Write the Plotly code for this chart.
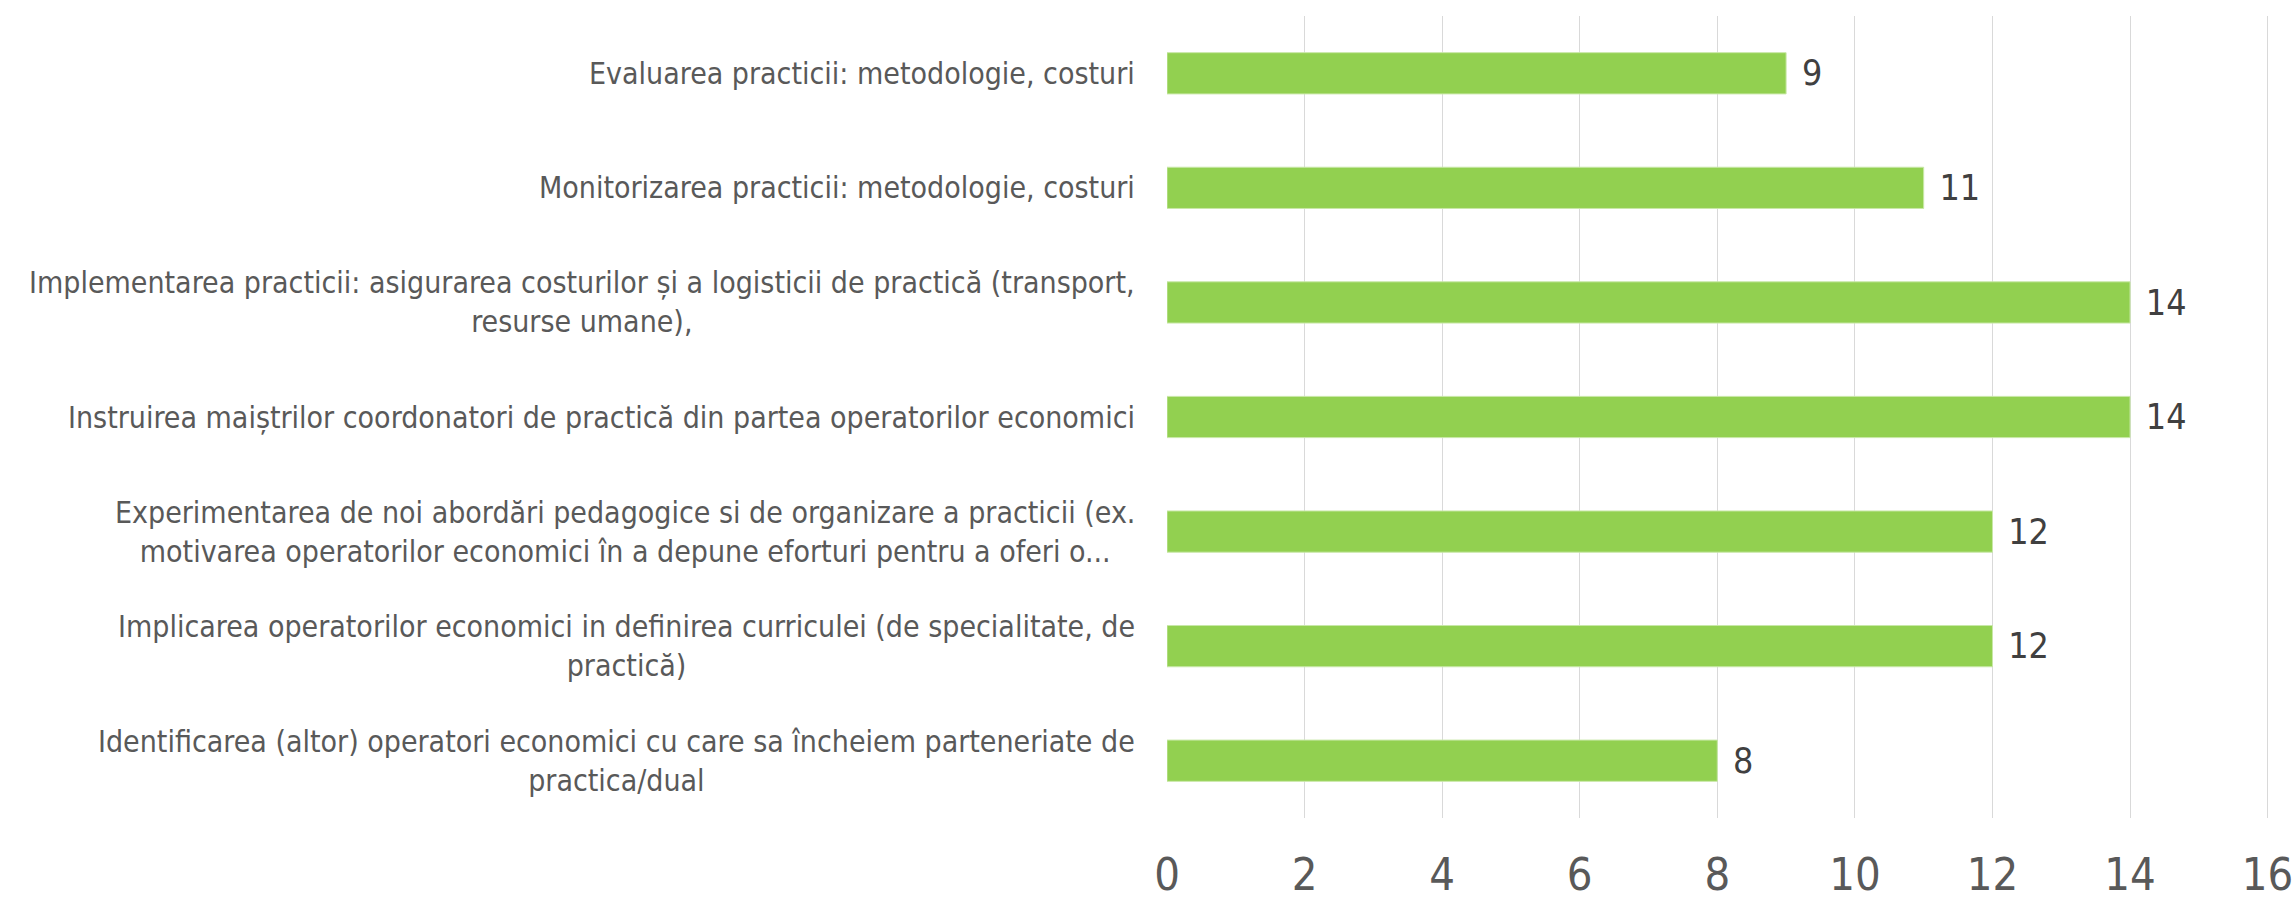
import plotly.graph_objects as go

categories = [
    "Evaluarea practicii: metodologie, costuri",
    "Monitorizarea practicii: metodologie, costuri",
    "Implementarea practicii: asigurarea costurilor și a logisticii de practică (transport,<br>resurse umane),",
    "Instruirea maiștrilor coordonatori de practică din partea operatorilor economici",
    "Experimentarea de noi abordări pedagogice si de organizare a practicii (ex.<br>motivarea operatorilor economici în a depune eforturi pentru a oferi o...",
    "Implicarea operatorilor economici in definirea curriculei (de specialitate, de<br>practică)",
    "Identificarea (altor) operatori economici cu care sa încheiem parteneriate de<br>practica/dual",
]
values = [9, 11, 14, 14, 12, 12, 8]
x_ticks = [0, 2, 4, 6, 8, 10, 12, 14, 16]

FONT = "Liberation Sans Narrow, DejaVu Sans Condensed, Roboto Condensed, Arial Narrow, sans-serif"

fig = go.Figure(
    go.Bar(
        x=values,
        y=categories,
        orientation="h",
        marker=dict(color="#92D050", line=dict(color="#C9E8A8", width=1)),
        text=values,
        texttemplate="\u2009\u2009%{x}",
        textposition="outside",
        textfont=dict(family=FONT, size=50, color="#404040"),
        cliponaxis=False,
        hoverinfo="skip",
    )
)

for cat in categories:
    fig.add_annotation(
        x=0, xref="paper", y=cat, yref="y",
        text=cat, showarrow=False,
        xanchor="right", yanchor="middle", align="center",
        xshift=-30,
        font=dict(family=FONT, size=30, color="#595959"),
    )

fig.update_layout(
    width=2293, height=902,
    margin=dict(l=1167, r=24, t=16, b=84, autoexpand=False),
    paper_bgcolor="white", plot_bgcolor="white",
    bargap=0.64,
    showlegend=False,
    xaxis=dict(
        range=[0, 16.02], tickvals=x_ticks, showgrid=True, gridcolor="#D9D9D9", gridwidth=1,
        zeroline=False, showline=False, ticks="", automargin=False,
        tickfont=dict(family=FONT, size=45, color="#595959"),
        ticklabelstandoff=26, ticklabeloverflow="allow",
    ),
    yaxis=dict(
        autorange="reversed", showticklabels=False, showgrid=False, zeroline=False,
        showline=False, ticks="", automargin=False,
    ),
)

fig.write_html(
    "out.html",
    config={"displayModeBar": False},
    post_script="document.body.style.margin='0';document.body.style.overflow='hidden';",
)
